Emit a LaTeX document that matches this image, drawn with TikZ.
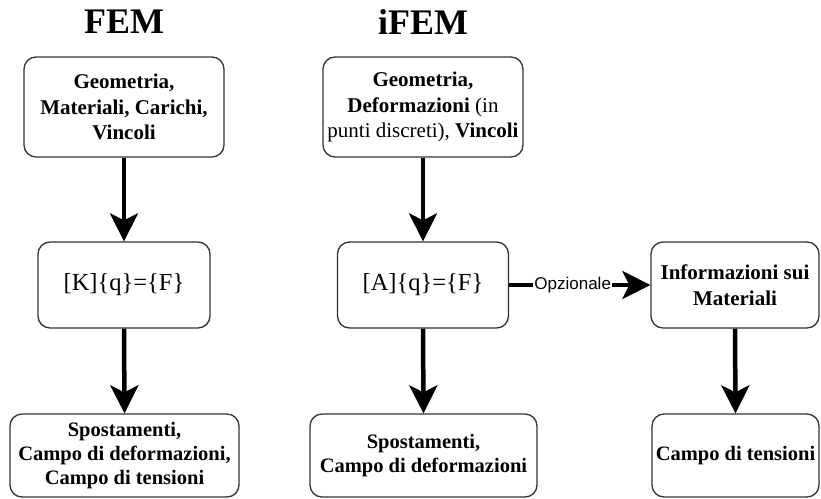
\documentclass[tikz,border=0pt]{standalone}
\usepackage{fontspec}
\setmainfont{Liberation Serif}
\setsansfont{Liberation Sans}
\usetikzlibrary{arrows.meta}
\definecolor{boxline}{HTML}{333333}
\tikzset{
  box/.style={draw=boxline, line width=1.3pt, rounded corners=12pt, fill=white,
    inner sep=0pt, align=center, font=\bfseries\fontsize{21}{25.5}\selectfont},
  lowbox/.style={box, font=\bfseries\fontsize{20.5}{24}\selectfont},
  eqbox/.style={box, font=\fontsize{24.5}{28}\selectfont},
  titletext/.style={font=\bfseries\fontsize{36}{40}\selectfont, inner sep=0pt},
  flow/.style={line width=4.5pt, -{Stealth[length=28pt, width=28pt, inset=7pt]}},
  optlabel/.style={fill=white, inner sep=1pt, font=\sffamily\fontsize{17}{19}\selectfont}
}
\begin{document}
\begin{tikzpicture}[x=1pt, y=-1pt]
\useasboundingbox (0,0) rectangle (821,498);
\node[titletext] (tf) at (124,22) {FEM};
\node[titletext] (ti) at (423,22) {iFEM};
\node[box, minimum width=200pt, minimum height=100pt] (g1) at (124,107)
  {Geometria,\\Materiali, Carichi,\\Vincoli};
\node[box, minimum width=200pt, minimum height=100pt] (g2) at (423,107)
  {Geometria,\\Deformazioni \mdseries(in\\\mdseries punti discreti), \bfseries Vincoli};
\node[eqbox, minimum width=172pt, minimum height=86pt] (k) at (124,285)
  {[K]\{q\}=\{F\}};
\node[eqbox, minimum width=171pt, minimum height=86pt] (a) at (423,285)
  {[A]\{q\}=\{F\}};
\node[box, minimum width=168pt, minimum height=86pt] (info) at (735,285)
  {Informazioni sui\\Materiali};
\node[lowbox, minimum width=229pt, minimum height=83pt] (s1) at (124.5,455.5)
  {Spostamenti,\\Campo di deformazioni,\\Campo di tensioni};
\node[lowbox, minimum width=227pt, minimum height=83pt] (s2) at (423.5,455.5)
  {Spostamenti,\\Campo di deformazioni};
\node[lowbox, minimum width=167pt, minimum height=83pt] (s3) at (735.5,455.5)
  {Campo di tensioni};
\draw[flow] (g1.south) -- (k.north);
\draw[flow] (k.south) -- (s1.north);
\draw[flow] (g2.south) -- (a.north);
\draw[flow] (a.south) -- (s2.north);
\draw[flow] (info.south) -- (s3.north);
\draw[flow] (a.east) -- node[optlabel, pos=0.45] {Opzionale} (info.west);
\end{tikzpicture}
\end{document}
